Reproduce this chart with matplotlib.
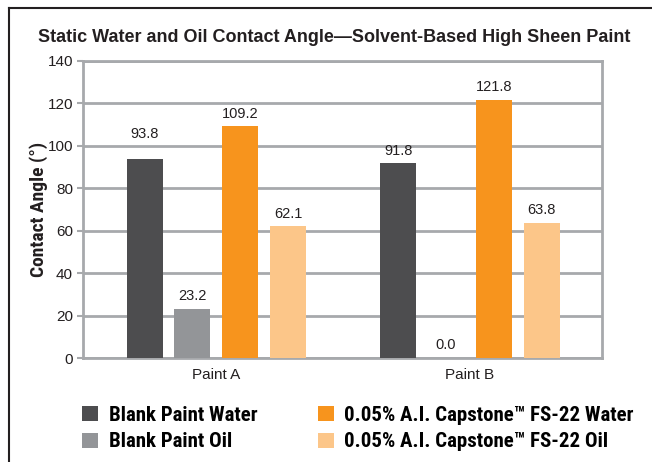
import numpy as np
import matplotlib.pyplot as plt
from matplotlib.patches import Patch
from matplotlib.lines import Line2D

# Data
paints = ['Paint A', 'Paint B']
series = ['Blank Paint Water', 'Blank Paint Oil',
          '0.05% A.I. Capstone\u2122 FS-22 Water', '0.05% A.I. Capstone\u2122 FS-22 Oil']
blank_water = [93.8, 91.8]
blank_oil = [23.2, 0.0]
caps_water = [109.2, 121.8]
caps_oil = [62.1, 63.8]
colors = ['#4d4d4f', '#939598', '#f7941d', '#fcc689']

plt.rcParams['font.family'] = ['Liberation Sans', 'DejaVu Sans']
cond_font = ['Roboto Condensed', 'DejaVu Sans']

fig = plt.figure(figsize=(6.52, 4.62), dpi=100)
ax = fig.add_axes([0.127, 0.225, 0.796, 0.643])

x = np.arange(len(paints))
step = 0.189
width = 0.142
values = [blank_water, blank_oil, caps_water, caps_oil]
for i, (vals, c) in enumerate(zip(values, colors)):
    bars = ax.bar(x + (i - 1.5) * step, vals, width, color=c, zorder=3)
    labels = ax.bar_label(bars, fmt='%.1f', padding=4, fontsize=10.5, color='#231f20')
    if i == 0:
        labels[0].xyann = (0, 13)  # the 93.8 label sits higher in the original

ax.set_xlim(-0.527, 1.52)
ax.set_ylim(0, 140)
ax.set_yticks(range(0, 141, 20))
ax.set_xticks(x)
ax.set_xticklabels(paints, fontsize=11, color='#231f20')
ax.tick_params(axis='y', labelsize=11, labelcolor='#231f20', length=4, width=1.5,
               color='#a7a9ac', pad=3)
ax.tick_params(axis='x', length=0, pad=7)
ax.grid(axis='y', color='#a7a9ac', linewidth=2, zorder=0)
for s in ax.spines.values():
    s.set_color('#a7a9ac')
    s.set_linewidth(2)
ax.set_ylabel('Contact Angle (\u00b0)', fontsize=14, fontweight='bold', color='#231f20',
              family=cond_font, labelpad=0)

fig.text(0.512, 0.909, 'Static Water and Oil Contact Angle\u2014Solvent-Based High Sheen Paint',
         ha='center', va='baseline', fontsize=13, fontweight='bold', color='#231f20')

# Frame around the figure (top and left)
fig.add_artist(Line2D([0.014, 1.0], [0.983, 0.983], color='#231f20', linewidth=1.5))
fig.add_artist(Line2D([0.014, 0.014], [0.0, 0.983], color='#231f20', linewidth=1.5))

handles = [Patch(facecolor=c, edgecolor='none') for c in colors]
fig.legend(handles, series, loc='upper left', bbox_to_anchor=(0.1258, 0.121), ncol=2,
           frameon=False, borderpad=0, borderaxespad=0, handlelength=0.78, handleheight=0.72,
           handletextpad=0.5, columnspacing=2.9, labelspacing=0.35,
           prop={'family': cond_font, 'weight': 'bold', 'size': 15})

fig.savefig('out.png', dpi=100)
